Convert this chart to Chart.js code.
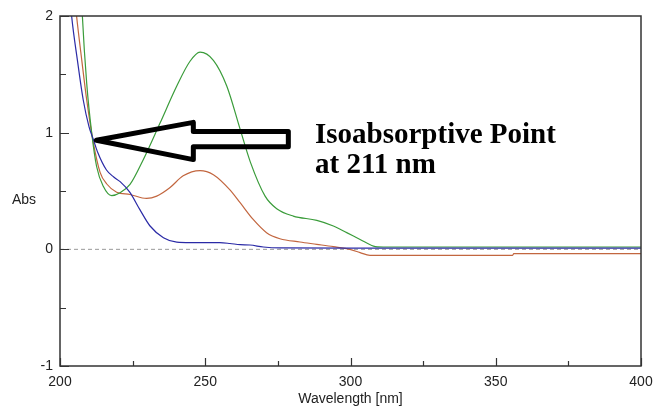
<!DOCTYPE html>
<html>
<head>
<meta charset="utf-8">
<script src="https://cdn.jsdelivr.net/npm/chart.js@4/dist/chart.umd.min.js"></script>
<style>
  body { margin: 0; background: #fff; }
  #wrap { width: 656px; height: 409px; }
</style>
</head>
<body>
<div id="wrap"><canvas id="myChart"></canvas></div>
<script>
// spectra (wavelength nm / absorbance)
var blueX = [203, 204, 206, 208, 210, 211.5, 213, 216, 218.5, 220.7, 224, 227.5, 231, 235.6, 240.2, 245, 255, 258.5, 262, 265.4, 270, 275.7, 300, 350, 400];
var blueY = [2.3, 2.0, 1.62, 1.28, 1.05, 0.94, 0.83, 0.68, 0.62, 0.58, 0.49, 0.34, 0.2, 0.10, 0.062, 0.058, 0.057, 0.05, 0.04, 0.037, 0.02, 0.012, 0.011, 0.011, 0.011];

var brownX = [204.5, 205.7, 207.5, 209.2, 211.5, 213.8, 216.1, 219.5, 224.1, 229.8, 233.3, 237.9, 242.4, 248.2, 252.8, 258.5, 262, 266.5, 271.1, 275.7, 282.6, 288.4, 294.1, 299.8, 303.3, 306.7, 355.8, 356.2, 400];
var brownY = [2.3, 2.0, 1.62, 1.28, 0.91, 0.66, 0.56, 0.49, 0.47, 0.436, 0.456, 0.53, 0.63, 0.675, 0.64, 0.51, 0.40, 0.256, 0.143, 0.091, 0.063, 0.043, 0.023, 0.0, -0.028, -0.051, -0.051, -0.037, -0.037];

var greenX = [207.2, 207.7, 209.2, 210.9, 212.6, 214.9, 217.8, 220.7, 224.1, 228.7, 234.4, 240.2, 244.7, 248.2, 252.8, 257.4, 262, 265.5, 270.6, 274.6, 280.3, 288.4, 294.1, 298.7, 303.3, 307.9, 311.3, 400];
var greenY = [2.3, 2.0, 1.42, 1.0, 0.71, 0.54, 0.46, 0.485, 0.556, 0.77, 1.08, 1.40, 1.61, 1.69, 1.62, 1.40, 1.03, 0.75, 0.456, 0.348, 0.285, 0.248, 0.2, 0.143, 0.085, 0.028, 0.02, 0.02];

var xTicks = [200, 225, 250, 275, 300, 325, 350, 375, 400];
var yTicks = [-1, -0.5, 0, 0.5, 1, 1.5, 2];

// arrow outline in data units (wavelength, abs)
var arrowX = [212.5, 245.9, 245.9, 278.6, 278.6, 245.9, 245.9];
var arrowY = [0.935, 1.088, 1.009, 1.009, 0.88, 0.88, 0.769];
var noteLines = ['Isoabsorptive Point', 'at 211 nm'];

function pts(xs, ys) {
  var out = [];
  for (var i = 0; i < xs.length; i++) out.push({x: xs[i], y: ys[i]});
  return out;
}

var extras = {
  id: 'extras',
  afterDraw: function(chart) {
    var ctx = chart.ctx, a = chart.chartArea;
    var xs = chart.scales.x, ys = chart.scales.y;
    ctx.save();
    // frame
    ctx.strokeStyle = '#333';
    ctx.lineWidth = 1.5;
    ctx.strokeRect(a.left, a.top, a.right - a.left, a.bottom - a.top);
    // inside ticks
    ctx.lineWidth = 1.2;
    ctx.beginPath();
    xTicks.forEach(function(v) {
      var px = Math.round(xs.getPixelForValue(v)) + 0.5;
      var len = v % 50 === 0 ? 8 : 5;
      ctx.moveTo(px, a.bottom);
      ctx.lineTo(px, a.bottom - len);
    });
    yTicks.forEach(function(v) {
      var py = Math.round(ys.getPixelForValue(v)) + 0.5;
      var len = Number.isInteger(v) ? 9 : 6;
      ctx.moveTo(a.left, py);
      ctx.lineTo(a.left + len, py);
    });
    ctx.stroke();
    // axis titles
    ctx.fillStyle = '#222';
    ctx.font = '14px "Liberation Sans", Arial, sans-serif';
    ctx.textAlign = 'left';
    ctx.textBaseline = 'middle';
    ctx.fillText('Abs', 12, 200);
    ctx.textAlign = 'center';
    ctx.fillText('Wavelength [nm]', (a.left + a.right) / 2, 399);
    // arrow
    ctx.strokeStyle = '#000';
    ctx.lineWidth = 5;
    ctx.lineJoin = 'round';
    ctx.beginPath();
    for (var i = 0; i < arrowX.length; i++) {
      var px = xs.getPixelForValue(arrowX[i]), py = ys.getPixelForValue(arrowY[i]);
      if (i === 0) ctx.moveTo(px, py); else ctx.lineTo(px, py);
    }
    ctx.closePath();
    ctx.stroke();
    // note
    ctx.fillStyle = '#000';
    ctx.font = 'bold 29px "Liberation Serif", "Times New Roman", serif';
    ctx.textAlign = 'left';
    ctx.textBaseline = 'alphabetic';
    ctx.fillText(noteLines[0], 315, 143);
    ctx.fillText(noteLines[1], 315, 173);
    ctx.restore();
  }
};

var ctx = document.getElementById('myChart').getContext('2d');
var myChart = new Chart(ctx, {
  type: 'line',
  data: {
    datasets: [
      { data: pts(blueX, blueY), borderColor: '#2a2aa6', borderWidth: 1.2, pointRadius: 0, cubicInterpolationMode: 'monotone', order: 1 },
      { data: pts(greenX, greenY), borderColor: '#3a9c3a', borderWidth: 1.2, pointRadius: 0, cubicInterpolationMode: 'monotone', order: 2 },
      { data: pts(brownX, brownY), borderColor: '#c2663f', borderWidth: 1.2, pointRadius: 0, cubicInterpolationMode: 'monotone', order: 3 },
      { data: [{x: 200, y: 0}, {x: 400, y: 0}], borderColor: '#999', borderWidth: 1, borderDash: [4, 3], pointRadius: 0, order: 10 }
    ]
  },
  options: {
    responsive: true,
    maintainAspectRatio: false,
    animation: false,
    layout: { padding: { left: 0, right: 15, top: 16, bottom: 0 } },
    plugins: { legend: { display: false }, tooltip: { enabled: false } },
    scales: {
      x: {
        type: 'linear', min: 200, max: 400,
        grid: { display: false, drawTicks: false },
        border: { display: false },
        afterBuildTicks: function(s) { s.ticks = [200, 250, 300, 350, 400].map(function(v) { return {value: v}; }); },
        ticks: { padding: 8, color: '#222', font: { family: '"Liberation Sans", Arial, sans-serif', size: 14 }, maxRotation: 0 },
        afterFit: function(s) { s.height = 43; s.paddingRight = 0; s.paddingLeft = 0; }
      },
      y: {
        min: -1, max: 2,
        grid: { display: false, drawTicks: false },
        border: { display: false },
        afterBuildTicks: function(s) { s.ticks = [-1, 0, 1, 2].map(function(v) { return {value: v}; }); },
        ticks: { padding: 7, color: '#222', font: { family: '"Liberation Sans", Arial, sans-serif', size: 14 } },
        afterFit: function(s) { s.width = 60; s.paddingTop = 0; s.paddingBottom = 0; }
      }
    }
  },
  plugins: [extras]
});
</script>
</body>
</html>
